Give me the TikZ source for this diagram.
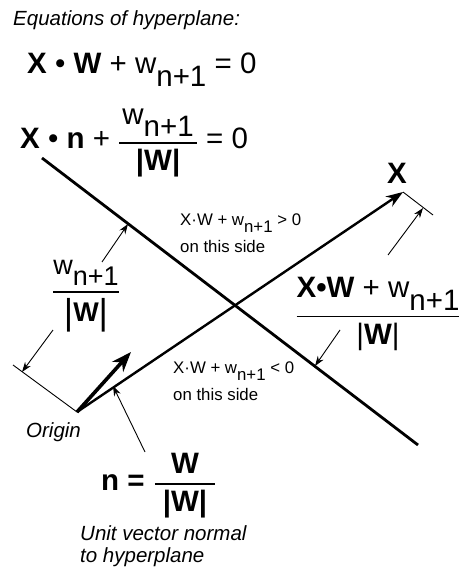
\documentclass[tikz,border=0pt]{standalone}
\usepackage{amsmath}
\usepackage{fontspec}
\setmainfont{Liberation Sans}
\usetikzlibrary{arrows.meta}
\newcommand\sbs[1]{\raisebox{-0.42em}{#1}}
\newcommand\fr[2]{$\genfrac{}{}{1.8pt}{0}{\hbox{#1}}{\hbox{#2}}$}
\newcommand\tallbar{{\fontsize{36}{36}\selectfont\raisebox{-0.08em}{|}}}
\tikzset{
  plane/.style  ={line width=2.8pt},
  vec/.style    ={line width=2.4pt,-{Stealth[length=17pt,width=12pt]}},
  unitvec/.style={line width=3.6pt,-{Stealth[length=20pt,width=15pt]}},
  tickln/.style ={line width=0.9pt},
  ptr/.style    ={line width=0.9pt,-{Stealth[length=10pt,width=7pt]}},
  note/.style   ={font=\fontsize{20.5}{22}\selectfont\itshape,inner sep=0pt},
  side/.style   ={font=\fontsize{16.8}{27}\selectfont,align=left,inner sep=0pt},
  eqn/.style    ={font=\fontsize{29.5}{32}\selectfont,inner sep=0pt},
}

\begin{document}
\begin{tikzpicture}[x=1pt,y=-1pt]
  \useasboundingbox (0,0) rectangle (467,569);
  % hyperplane and vectors
  \coordinate (pA) at (42,158);
  \coordinate (pB) at (418,445);
  \coordinate (O)  at (77,412);
  \coordinate (Xt) at (403,192);
  \coordinate (Xe) at (433,215);
  \coordinate (Oe) at (13,365);
  \coordinate (nt) at (131,352);
  \draw[plane] (pA) -- (pB);
  \draw[vec] (O) -- (Xt);
  \draw[unitvec] (O) -- (nt);
  \draw[tickln] (Xt) -- (Xe);
  \draw[tickln] (O) -- (Oe);

  % labels
  \node[note,anchor=base west] (title) at (13,26) {Equations of hyperplane:};
  \node[eqn,anchor=base west] (eqA) at (27,74)
    {\textbf{X} • \textbf{W} + w\sbs{n+1} = 0};
  \node[eqn,anchor=base west] (eqB) at (20,149)
    {\textbf{X} • \textbf{n} + \fr{\kern3pt w\sbs{n+1}\kern3pt}{\textbf{|W|}} = 0};
  \node[eqn,font=\fontsize{27}{30}\selectfont] (wfrac) at (86,296)
    {\fr{w\sbs{n+1}}{\tallbar\textbf{W}\tallbar}};
  \node[eqn] (xfrac) at (378,314) {\fr{\textbf{X•W} + w\sbs{n+1}}{|\textbf{W}|}};
  \node[eqn,anchor=base] (xlbl) at (397,183) {\textbf{X}};
  \node[side,anchor=base west] (pos) at (180,252) {X·W + w\sbs{n+1} > 0\\on this side};
  \node[side,anchor=base west] (neg) at (173,400) {X·W + w\sbs{n+1} < 0\\on this side};
  \node[note,anchor=base west] (orig) at (26,437) {Origin};
  \node[eqn,anchor=base west] (ndef) at (101,490)
    {\textbf{n =}\hspace{9pt}\fr{\textbf{W}}{\kern8pt\textbf{|W|}\kern8pt}};
  \node[note,anchor=base west,align=left] (unote) at (80,562)
    {Unit vector normal\\to hyperplane};

  % pointers
  \coordinate (xfrom) at (388,255);
  \coordinate (xto)   at (423,208);
  \coordinate (wfrom) at (102,262);
  \coordinate (wto)   at (128,224);
  \coordinate (ofrom) at (53,330);
  \coordinate (oto)   at (22,372);
  \coordinate (nfrom) at (145,452);
  \coordinate (nto)   at (113,386);
  \coordinate (dfrom) at (340,330);
  \coordinate (dto)   at (315,366);
  \draw[ptr] (xfrom) -- (xto);
  \draw[ptr] (wfrom) -- (wto);
  \draw[ptr] (ofrom) -- (oto);
  \draw[ptr] (nfrom) -- (nto);
  \draw[ptr] (dfrom) -- (dto);
\end{tikzpicture}
\end{document}
